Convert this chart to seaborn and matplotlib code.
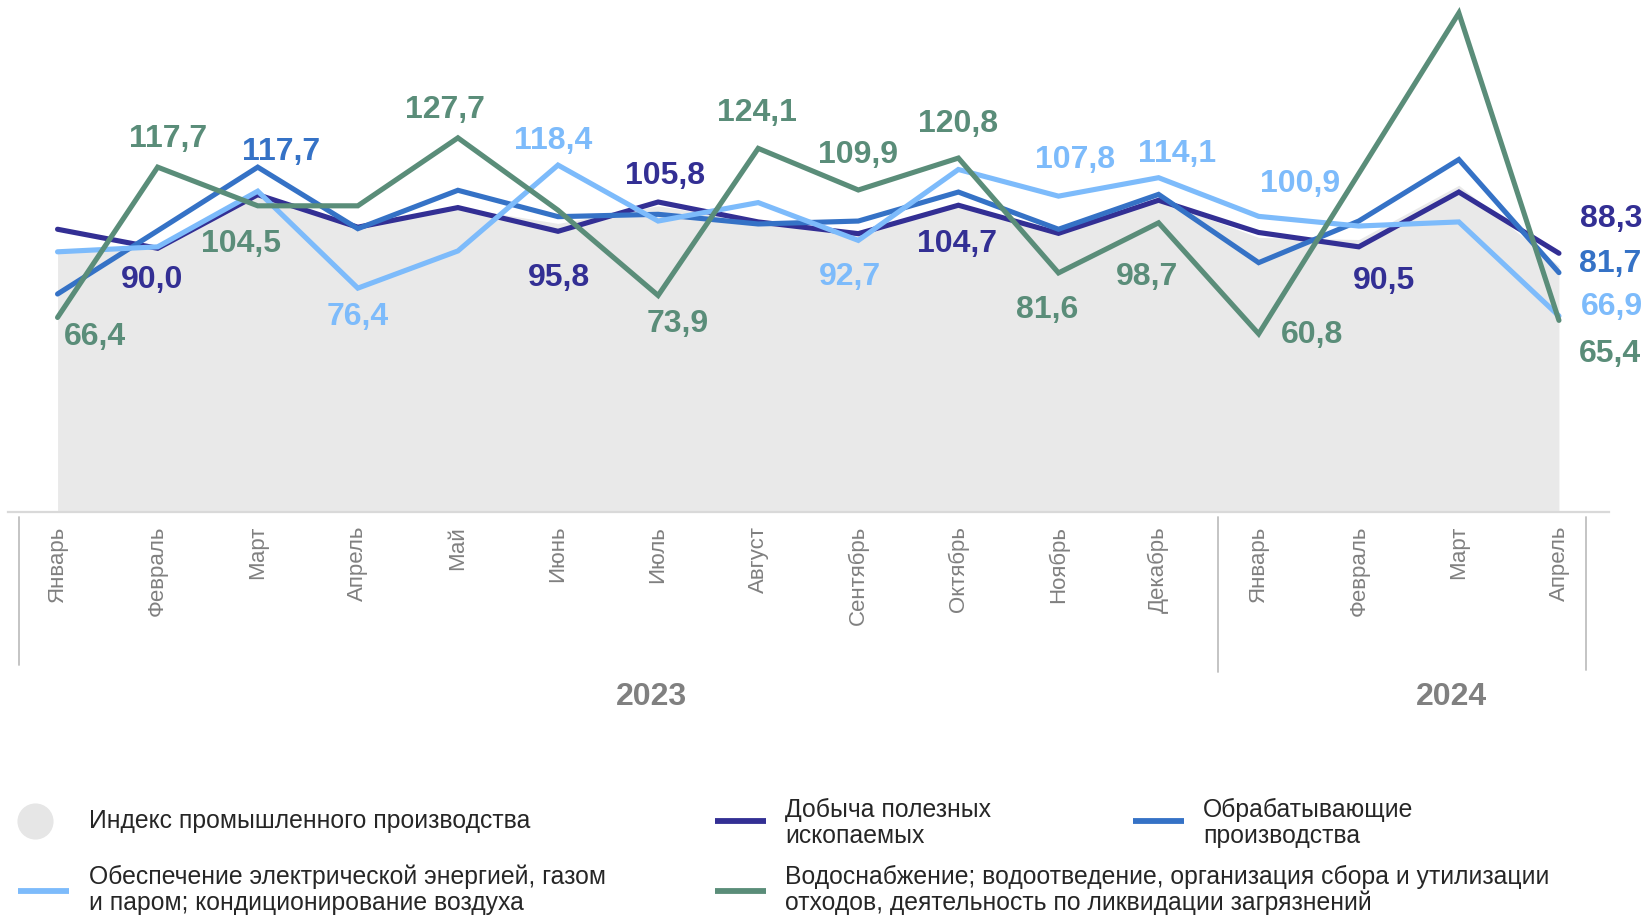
import numpy as np
import pandas as pd
import matplotlib
matplotlib.use("Agg")
import matplotlib.pyplot as plt
import seaborn as sns
from matplotlib.lines import Line2D
from matplotlib.transforms import blended_transform_factory

# ---------------- data ----------------
months = ["Январь", "Февраль", "Март", "Апрель", "Май", "Июнь", "Июль", "Август",
          "Сентябрь", "Октябрь", "Ноябрь", "Декабрь",
          "Январь", "Февраль", "Март", "Апрель"]
years = ["2023", "2024"]

index_vals = [88.5, 90.0, 108.0, 97.0, 104.0, 98.5, 104.5, 99.0, 96.0, 104.5, 95.5, 106.5,
              93.7, 93.0, 111.5, 84.0]
mining = [96.5, 90.0, 108.3, 97.2, 103.9, 95.8, 105.8, 99.0, 95.0, 104.7, 95.1, 106.4,
          95.4, 90.5, 109.2, 88.3]
manuf = [74.4, 96.0, 117.7, 96.7, 109.8, 100.8, 101.6, 98.3, 99.3, 109.2, 96.5, 108.4,
         85.1, 99.3, 120.3, 81.7]
energy = [88.8, 90.5, 109.5, 76.4, 89.1, 118.4, 99.3, 105.6, 92.7, 116.9, 107.8, 114.1,
          100.9, 97.6, 99.0, 66.9]
water = [66.4, 117.7, 104.5, 104.5, 127.7, 103.0, 73.9, 124.1, 109.9, 120.8, 81.6, 98.7,
         60.8, 115.5, 170.3, 65.4]

index_name = "Индекс промышленного производства"
series_names = ["Добыча полезных\nископаемых",
                "Обрабатывающие\nпроизводства",
                "Обеспечение электрической энергией, газом\nи паром; кондиционирование воздуха",
                "Водоснабжение; водоотведение, организация сбора и утилизации\nотходов, деятельность по ликвидации загрязнений"]
series_values = [mining, manuf, energy, water]
colors = ["#332F94", "#3572C6", "#7DBBFB", "#5A8D79"]
area_color = "#E9E9E9"

# labelled points: (month index, dx px, dy px, ha)
label_spec = [
    [(1, -6, -32, "center"), (5, 1, -47, "center"), (6, 7, 26, "center"),
     (9, -1, -39, "center"), (13, 25, -34, "center"), (15, 21, 34, "left")],
    [(2, 23, 15, "center"), (15, 20, 9, "left")],
    [(3, 0, -29, "center"), (5, -5, 24, "center"), (8, -8, -37, "center"),
     (10, 17, 36, "center"), (11, 18, 24, "center"), (12, 41, 32, "center"),
     (15, 22, 9, "left")],
    [(0, 37, -20, "center"), (1, 10, 28, "center"), (2, -17, -38, "center"),
     (4, -13, 28, "center"), (6, 20, -29, "center"), (7, -1, 35, "center"),
     (8, 0, 35, "center"), (9, 0, 34, "center"), (10, -11, -37, "center"),
     (11, -12, -54, "center"), (12, 53, -1, "center"), (15, 20, -34, "left")],
]

# ---------------- style ----------------
sns.set_theme(style="white")
plt.rcParams["font.family"] = ["Liberation Sans", "DejaVu Sans"]

W, H = 1642, 917
fig = plt.figure(figsize=(W / 100, H / 100), dpi=100)
y0_px = 512.0
scale = 2.93
ax = fig.add_axes([7.5 / W, (H - y0_px) / H, 1601.5 / W, y0_px / H])
ax.set_xlim(-0.5, 15.5)
ax.set_ylim(0, y0_px / scale)

x = np.arange(len(months))
ax.fill_between(x, 0, index_vals, color=area_color, lw=0, zorder=1)

df = pd.DataFrame({
    "x": np.tile(x, len(series_names)),
    "value": np.concatenate(series_values),
    "series": np.repeat(series_names, len(months)),
})
sns.lineplot(data=df, x="x", y="value", hue="series", hue_order=series_names,
             palette=dict(zip(series_names, colors)), linewidth=3.7,
             legend=False, ax=ax, sort=False, zorder=3)
for ln in ax.lines:
    ln.set_solid_capstyle("round")
    ln.set_solid_joinstyle("miter")

for vals, col, specs in zip(series_values, colors, label_spec):
    for i, dx, dy, ha in specs:
        ax.annotate(f"{vals[i]:.1f}".replace(".", ","), xy=(i, vals[i]),
                    xytext=(dx, dy), textcoords="offset pixels",
                    ha=ha, va="center", fontsize=23, fontweight="bold",
                    color=col, zorder=5, annotation_clip=False)

for s in ["top", "right", "left"]:
    ax.spines[s].set_visible(False)
ax.spines["bottom"].set_color("#D9D9D9")
ax.spines["bottom"].set_linewidth(1.6)
ax.set_yticks([])
ax.set_xticks(x)
ax.set_xticklabels(months, rotation=90, fontsize=16, color="#808080",
                   ha="center", va="top")
ax.tick_params(axis="x", length=0, pad=10)
ax.set_xlabel("")
ax.set_ylabel("")

# year group separators and labels
tr = blended_transform_factory(ax.transData, fig.transFigure)
for xs, top, bot in [(-0.387, 517, 665), (11.59, 517, 672), (15.27, 517, 670)]:
    fig.add_artist(Line2D([xs, xs], [1 - top / H, 1 - bot / H], transform=tr,
                          color="#BFBFBF", lw=1.3))
for xs, yr in zip([5.93, 13.93], years):
    fig.text(xs, 1 - 697 / H, yr, transform=tr, ha="center", va="center",
             fontsize=23, fontweight="bold", color="#808080")

# legend (manual layout)
def fx(px):
    return px / W

def fy(py):
    return 1 - py / H

fig.add_artist(Line2D([fx(34.5)], [fy(821)], marker="o", markersize=25,
                      color="#E6E6E6", lw=0, transform=fig.transFigure))
fig.text(fx(89), fy(821), index_name, ha="left", va="center",
         fontsize=17.8, color="#262626")
leg_pos = [(715, 821, 785, 823), (1133, 821, 1203, 823),
           (18, 891, 89, 890), (715, 891, 785, 890)]
for (lx, ly, tx, ty), name, col in zip(leg_pos, series_names, colors):
    fig.add_artist(Line2D([fx(lx), fx(lx + 51)], [fy(ly), fy(ly)], color=col,
                          lw=4.2, transform=fig.transFigure, solid_capstyle="butt"))
    fig.text(fx(tx), fy(ty), name, ha="left", va="center", fontsize=17.8,
             color="#262626", linespacing=1.12)

fig.savefig("out.png", dpi=100)
